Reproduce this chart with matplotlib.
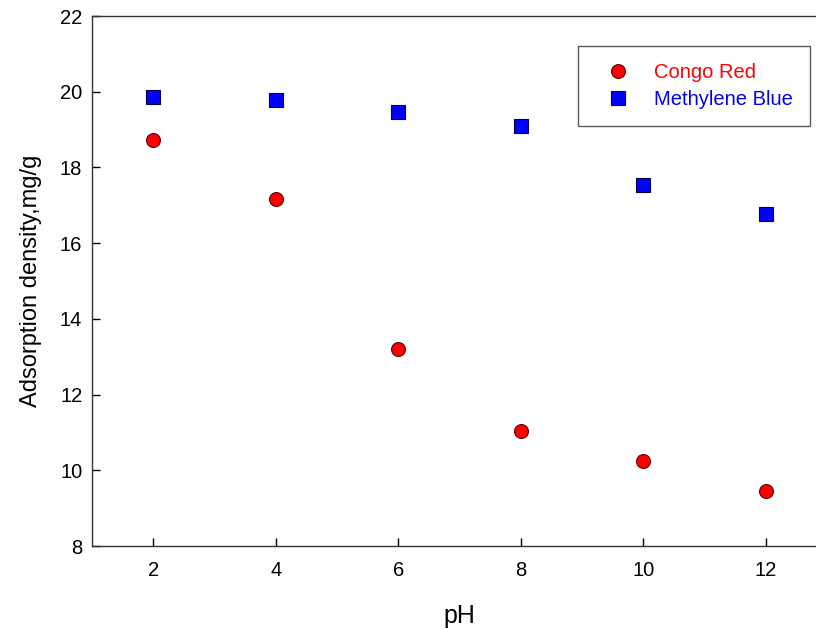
import matplotlib.pyplot as plt

ph = [2, 4, 6, 8, 10, 12]
congo_red = [18.72, 17.17, 13.2, 11.04, 10.25, 9.45]
methylene_blue = [19.86, 19.78, 19.46, 19.1, 17.54, 16.77]

plt.rcParams['font.family'] = ['Liberation Sans', 'DejaVu Sans']

fig = plt.figure(figsize=(8.16, 6.29), dpi=100)
# axes runs off the right edge, like the cropped original
ax = fig.add_axes([92 / 816, 1 - 546 / 629, 735 / 816, 530 / 629])

ax.plot(ph, congo_red, 'o', color='red', markeredgecolor='#600000',
        markeredgewidth=0.8, markersize=10, label='Congo Red')
ax.plot(ph, methylene_blue, 's', color='blue', markeredgecolor='#000040',
        markeredgewidth=0.8, markersize=9.5, label='Methylene Blue')

ax.set_xlim(1, 13)
ax.set_ylim(8, 22)
ax.set_xticks(ph)
ax.set_yticks(range(8, 23, 2))
ax.tick_params(direction='in', length=6, width=1, labelsize=14.5)
ax.tick_params(axis='x', pad=11)
ax.tick_params(axis='y', pad=7)
for s in ax.spines.values():
    s.set_linewidth(1)
    s.set_color('#333333')

ax.set_xlabel('pH', fontsize=18, labelpad=17)
ax.set_ylabel('Adsorption density,mg/g', fontsize=17, labelpad=13)

leg = ax.legend(loc='upper left', bbox_to_anchor=(486 / 735, 1 - 30 / 530),
                fontsize=14.5, frameon=True, fancybox=False, edgecolor='#333333',
                borderpad=0.85, handletextpad=0.6, labelspacing=0.4,
                borderaxespad=0, handlelength=2.3)
leg.get_frame().set_linewidth(1)
for t, c in zip(leg.get_texts(), ['red', 'blue']):
    t.set_color(c)

fig.savefig('out.png', dpi=100)
